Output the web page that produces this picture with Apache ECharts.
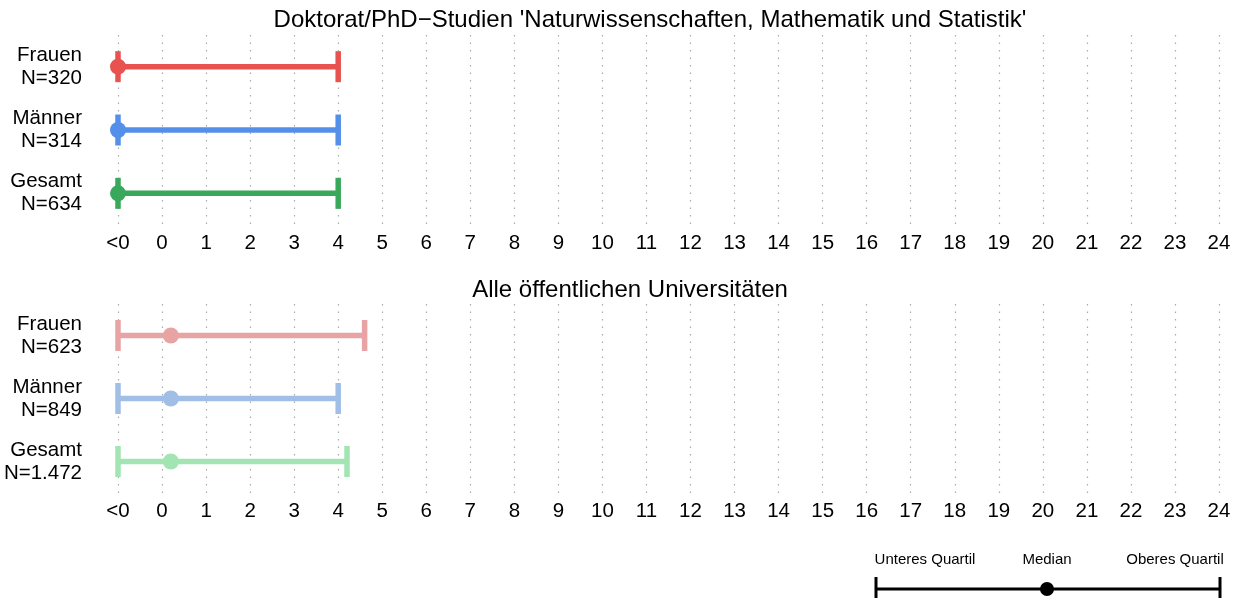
<!DOCTYPE html>
<html><head><meta charset="utf-8">
<script src="https://cdn.jsdelivr.net/npm/echarts@6/dist/echarts.min.js"></script>
<style>html,body{margin:0;padding:0;background:#fff}#c{width:1244px;height:598px}</style>
</head><body><div id="c"></div>
<script>
const categories = ['Frauen', 'Männer', 'Gesamt'];
const nTop = ['320', '314', '634'];
const nBottom = ['623', '849', '1.472'];
const titleTop = "Doktorat/PhD\u2212Studien 'Naturwissenschaften, Mathematik und Statistik'";
const titleBottom = 'Alle öffentlichen Universitäten';
// value -1 stands for "<0"
const topMin = [-1, -1, -1];
const topMedian = [-1, -1, -1];
const topMax = [4, 4, 4];
const bottomMin = [-1, -1, -1];
const bottomMedian = [0.2, 0.2, 0.2];
const bottomMax = [4.6, 4.0, 4.2];
const tickValues = [-1,0,1,2,3,4,5,6,7,8,9,10,11,12,13,14,15,16,17,18,19,20,21,22,23,24];
const tickLabel = v => v === -1 ? '<0' : String(v);
const legendLabels = ['Unteres Quartil', 'Median', 'Oberes Quartil'];
const colorsTop = ['#E8524F', '#548FEA', '#3AA85A'];
const colorsBottom = ['#E8A4A4', '#A0BEE6', '#A2E4B2'];

const FONT = 'Liberation Sans, Arial, sans-serif';

function rowData(mins, meds, maxs) {
  return categories.map((c, i) => [i, mins[i], meds[i], maxs[i]]);
}
function makeRender(colors) {
  return function (params, api) {
    const i = api.value(0);
    const pMin = api.coord([api.value(1), i]);
    const pMed = api.coord([api.value(2), i]);
    const pMax = api.coord([api.value(3), i]);
    const c = colors[i];
    const capH = 15.5;
    return {
      type: 'group',
      children: [
        { type: 'line', shape: { x1: pMin[0], y1: pMin[1], x2: pMax[0], y2: pMax[1] }, style: { stroke: c, lineWidth: 5.5 } },
        { type: 'line', shape: { x1: pMin[0], y1: pMin[1] - capH, x2: pMin[0], y2: pMin[1] + capH }, style: { stroke: c, lineWidth: 5.5 } },
        { type: 'line', shape: { x1: pMax[0], y1: pMax[1] - capH, x2: pMax[0], y2: pMax[1] + capH }, style: { stroke: c, lineWidth: 5.5 } },
        { type: 'circle', shape: { cx: pMed[0], cy: pMed[1], r: 8 }, style: { fill: c } }
      ]
    };
  };
}
function xAxis(gi) {
  return {
    type: 'value', gridIndex: gi, min: -1, max: 24, interval: 1,
    axisLine: { show: false }, axisTick: { show: false },
    axisLabel: { formatter: tickLabel, fontSize: 20.5, color: '#000', fontFamily: FONT, margin: 8, customValues: tickValues },
    splitLine: { show: true, lineStyle: { type: [1.5, 6], color: '#aaaaaa', width: 1.2 } }
  };
}
function yAxis(gi, ns) {
  return {
    type: 'category', gridIndex: gi, data: categories, inverse: true,
    axisLine: { show: false }, axisTick: { show: false },
    axisLabel: { formatter: (v, idx) => v + '\nN=' + ns[idx], fontSize: 20.5, lineHeight: 23, color: '#000', fontFamily: FONT, margin: 36, align: 'right' },
    splitLine: { show: false }
  };
}

const chart = echarts.init(document.getElementById('c'), null, { renderer: 'canvas' });
chart.setOption({
  animation: false,
  backgroundColor: '#fff',
  title: [
    { text: titleTop, left: 645, top: 3, textAlign: 'center', textStyle: { fontSize: 24, fontWeight: 'normal', color: '#000', fontFamily: FONT } },
    { text: titleBottom, left: 625, top: 273, textAlign: 'center', textStyle: { fontSize: 24, fontWeight: 'normal', color: '#000', fontFamily: FONT } }
  ],
  grid: [
    { left: 118, right: 25, top: 35, height: 190 },
    { left: 118, right: 25, top: 304, height: 189 }
  ],
  xAxis: [xAxis(0), xAxis(1)],
  yAxis: [yAxis(0, nTop), yAxis(1, nBottom)],
  series: [
    { type: 'custom', xAxisIndex: 0, yAxisIndex: 0, renderItem: makeRender(colorsTop), data: rowData(topMin, topMedian, topMax), encode: { x: [1, 2, 3], y: 0 }, clip: false },
    { type: 'custom', xAxisIndex: 1, yAxisIndex: 1, renderItem: makeRender(colorsBottom), data: rowData(bottomMin, bottomMedian, bottomMax), encode: { x: [1, 2, 3], y: 0 }, clip: false }
  ],
  graphic: [
    { type: 'line', shape: { x1: 876, y1: 589, x2: 1220, y2: 589 }, style: { stroke: '#000', lineWidth: 3 } },
    { type: 'line', shape: { x1: 876, y1: 577, x2: 876, y2: 601 }, style: { stroke: '#000', lineWidth: 3 } },
    { type: 'line', shape: { x1: 1220, y1: 577, x2: 1220, y2: 601 }, style: { stroke: '#000', lineWidth: 3 } },
    { type: 'circle', shape: { cx: 1047, cy: 589, r: 7 }, style: { fill: '#000' } },
    { type: 'text', x: 925, y: 560, style: { text: legendLabels[0], fontSize: 15, fill: '#000', align: 'center', verticalAlign: 'middle', fontFamily: FONT } },
    { type: 'text', x: 1047, y: 560, style: { text: legendLabels[1], fontSize: 15, fill: '#000', align: 'center', verticalAlign: 'middle', fontFamily: FONT } },
    { type: 'text', x: 1175, y: 560, style: { text: legendLabels[2], fontSize: 15, fill: '#000', align: 'center', verticalAlign: 'middle', fontFamily: FONT } }
  ]
});
</script>
</body></html>
